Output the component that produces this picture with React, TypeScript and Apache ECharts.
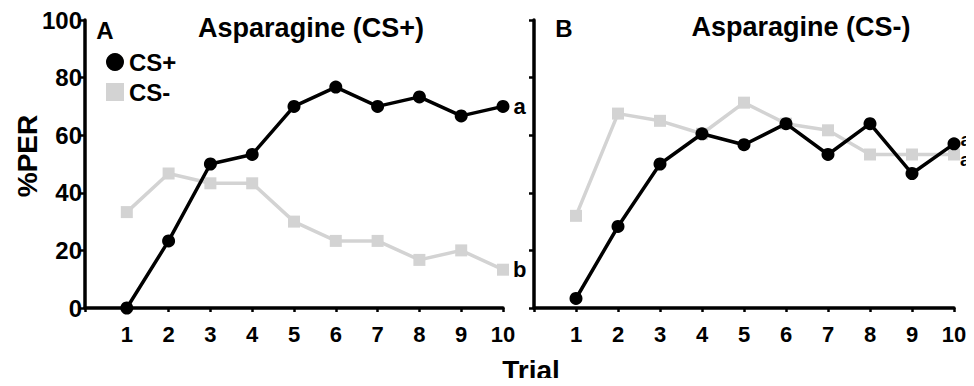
import React, { useEffect, useRef } from "react";
import * as echarts from "echarts";

const trials = [1, 2, 3, 4, 5, 6, 7, 8, 9, 10];
const yTicks = [0, 20, 40, 60, 80, 100];
const panelA_csPlus = [0, 23.3, 50, 53.3, 70, 76.7, 70, 73.3, 66.7, 70];
const panelA_csMinus = [33.3, 46.7, 43.3, 43.3, 30, 23.3, 23.3, 16.7, 20, 13.3];
const panelB_csPlus = [3.3, 28.3, 50, 60.5, 56.7, 64, 53.3, 64, 46.7, 57];
const panelB_csMinus = [32, 67.5, 65, 60.5, 71.3, 64, 61.7, 53.3, 53.3, 53.3];
const endLetters = { A: ["a", "b"], B: ["a", "a"] };
const titles = ["Asparagine (CS+)", "Asparagine (CS-)"];
const panelLetters = ["A", "B"];

const FONT = "Liberation Sans, Arial, sans-serif";

function toData(vals: number[], letter: string, offsetY: number, dist: number, size: number) {
  return vals.map((v, i) => {
    const item: any = { value: [trials[i], v] };
    if (i === vals.length - 1) {
      item.label = {
        show: true,
        position: "right",
        formatter: letter,
        color: "#000",
        fontWeight: "bold",
        fontSize: size,
        lineHeight: 12,
        fontFamily: FONT,
        distance: dist,
        offset: [0, offsetY],
      };
    }
    return item;
  });
}

export default function App() {
  const ref = useRef<HTMLDivElement>(null);
  useEffect(() => {
    const chart = echarts.init(ref.current!, null, { renderer: "svg" });
    const axisLine = { show: true, lineStyle: { color: "#000", width: 3.5 } };
    const xAxis = (gi: number) => ({
      type: "value",
      gridIndex: gi,
      min: 0,
      max: 10,
      interval: 1,
      axisLine: { ...axisLine, onZero: false },
      axisTick: { show: true, length: 4, lineStyle: { color: "#000", width: 2.5 } },
      splitLine: { show: false },
      axisLabel: {
        show: true,
        color: "#000",
        fontWeight: "bold",
        fontSize: 22,
        fontFamily: FONT,
        margin: 15,
        formatter: (v: number) => (v === 0 ? "" : String(v)),
      },
    });
    const yAxis = (gi: number, labels: boolean) => ({
      type: "value",
      gridIndex: gi,
      min: yTicks[0],
      max: yTicks[yTicks.length - 1],
      interval: 20,
      axisLine,
      axisTick: { show: true, length: 5, lineStyle: { color: "#000", width: 2.5 } },
      splitLine: { show: false },
      axisLabel: {
        show: labels,
        color: "#000",
        fontWeight: "bold",
        fontSize: 24,
        fontFamily: FONT,
        margin: 3,
      },
    });
    const lineSeries = (
      name: string,
      gi: number,
      vals: number[],
      letter: string,
      plus: boolean,
      offY: number,
      dist: number,
      size: number
    ) => ({
      type: "line",
      name,
      xAxisIndex: gi,
      yAxisIndex: gi,
      data: toData(vals, letter, offY, dist, size),
      symbol: plus ? "circle" : "rect",
      symbolSize: plus ? 13 : 12,
      lineStyle: { color: plus ? "#000" : "#d3d3d3", width: 3.5 },
      itemStyle: { color: plus ? "#000" : "#d3d3d3" },
      z: plus ? 3 : 2,
    });
    chart.setOption({
      animation: false,
      textStyle: { fontFamily: FONT },
      grid: [
        { left: 85, top: 20, width: 418, height: 288 },
        { left: 534, top: 20, width: 420, height: 288 },
      ],
      xAxis: [xAxis(0), xAxis(1)],
      yAxis: [yAxis(0, true), yAxis(1, false)],
      legend: {
        left: 101,
        top: 45,
        orient: "vertical",
        itemGap: 6,
        itemWidth: 18,
        itemHeight: 18,
        selectedMode: false,
        textStyle: { color: "#000", fontWeight: "bold", fontSize: 24, fontFamily: FONT },
        data: [
          { name: "CS+", icon: "circle", itemStyle: { color: "#000" } },
          { name: "CS-", icon: "rect", itemStyle: { color: "#d3d3d3" } },
        ],
      },
      series: [
        lineSeries("CS-", 0, panelA_csMinus, endLetters.A[1], false, 0, 4, 22),
        lineSeries("CS+", 0, panelA_csPlus, endLetters.A[0], true, 0, 4, 22),
        lineSeries("CS-", 1, panelB_csMinus, endLetters.B[1], false, 5, 0, 19),
        lineSeries("CS+", 1, panelB_csPlus, endLetters.B[0], true, -4, 0, 19),
      ],
      graphic: [
        {
          type: "text",
          x: 311,
          y: 28,
          style: { text: titles[0], fill: "#000", font: `bold 27px ${FONT}`, align: "center", verticalAlign: "middle" },
        },
        {
          type: "text",
          x: 801,
          y: 27,
          style: { text: titles[1], fill: "#000", font: `bold 27px ${FONT}`, align: "center", verticalAlign: "middle" },
        },
        {
          type: "text",
          x: 105,
          y: 30,
          style: { text: panelLetters[0], fill: "#000", font: `bold 24px ${FONT}`, align: "center", verticalAlign: "middle" },
        },
        {
          type: "text",
          x: 564,
          y: 28,
          style: { text: panelLetters[1], fill: "#000", font: `bold 24px ${FONT}`, align: "center", verticalAlign: "middle" },
        },
        {
          type: "text",
          x: 27,
          y: 156,
          rotation: Math.PI / 2,
          style: { text: "%PER", fill: "#000", font: `bold 28px ${FONT}`, align: "center", verticalAlign: "middle" },
        },
        {
          type: "text",
          x: 531,
          y: 370,
          style: { text: "Trial", fill: "#000", font: `bold 28px ${FONT}`, align: "center", verticalAlign: "middle" },
        },
      ],
    });
    return () => chart.dispose();
  }, []);
  return <div ref={ref} style={{ width: 974, height: 386, margin: -8 }} />;
}
